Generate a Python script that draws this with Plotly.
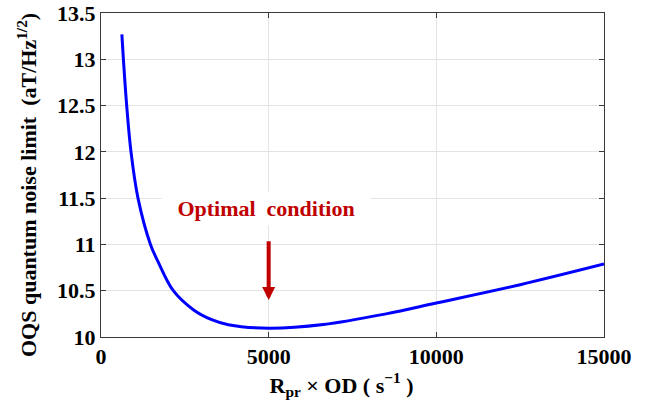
import plotly.graph_objects as go

# Data
rate_od = [622, 668, 766, 895, 1103, 1475, 1700, 2157, 2753, 3300, 3797,
           5000, 6630, 8500, 10000, 12500, 15000]
noise_limit = [13.27, 13.0, 12.5, 12.0, 11.5, 11.0, 10.815, 10.5, 10.295,
               10.187, 10.133, 10.095, 10.135, 10.25, 10.367, 10.565, 10.788]

x_ticks = [0, 5000, 10000, 15000]
y_ticks = [10, 10.5, 11, 11.5, 12, 12.5, 13, 13.5]

optimal_x = 5000
arrow_tip_y = 10.40
arrow_tail_y = 11.05
label_x = 4935
label_y = 11.385

FONT = "Liberation Serif"
DARKRED = "#c00000"
NB = "&nbsp;"

fig = go.Figure()
fig.add_trace(go.Scatter(
    x=rate_od, y=noise_limit, mode="lines",
    line=dict(color="#0000ff", width=3, shape="spline", smoothing=1.0),
    showlegend=False, hoverinfo="skip",
))

axis_common = dict(
    showline=True, linecolor="#3a3a3a", linewidth=1, mirror="ticks",
    ticks="inside", ticklen=5, tickcolor="#3a3a3a", tickwidth=1,
    showgrid=True, gridcolor="#e3e3e3", gridwidth=1, zeroline=False,
    automargin=False, ticklabeloverflow="allow",
    tickfont=dict(family=FONT, size=22, color="black", weight="bold"),
)

fig.update_xaxes(
    range=[0, 15000], tickvals=x_ticks, ticktext=[str(v) for v in x_ticks],
    title=dict(text="R<sub>pr</sub> × OD ( s<sup>−1</sup> )" + NB * 4,
               font=dict(family=FONT, size=22, color="black", weight="bold"),
               standoff=8),
    **axis_common,
)
fig.update_yaxes(
    range=[10, 13.5], tickvals=y_ticks, ticktext=[f"{v:g}" for v in y_ticks],
    **axis_common,
)

# y-axis title as a rotated annotation for exact placement
fig.add_annotation(
    x=0, y=0.469, xref="paper", yref="paper", xshift=-74,
    xanchor="center", yanchor="middle", textangle=-90, showarrow=False,
    text="OQS quantum noise limit  (aT/Hz<sup>1/2</sup>)",
    font=dict(family=FONT, size=22, color="black", weight="bold"),
)

fig.add_annotation(
    x=optimal_x, y=arrow_tip_y, ax=optimal_x, ay=arrow_tail_y,
    xref="x", yref="y", axref="x", ayref="y",
    text="", showarrow=True, arrowhead=2, arrowsize=0.65, arrowwidth=4,
    arrowcolor=DARKRED,
)
fig.add_annotation(
    x=label_x, y=label_y, xref="x", yref="y",
    text="Optimal  condition", showarrow=False,
    font=dict(family=FONT, size=22, color=DARKRED, weight="bold"),
    bgcolor="white", borderpad=4, width=200,
)

fig.update_layout(
    width=657, height=409,
    margin=dict(l=101, r=53, t=13, b=72),
    paper_bgcolor="white", plot_bgcolor="white",
)

fig.write_html("out.html", config={"displayModeBar": False},
               post_script="document.body.style.margin='0';")
